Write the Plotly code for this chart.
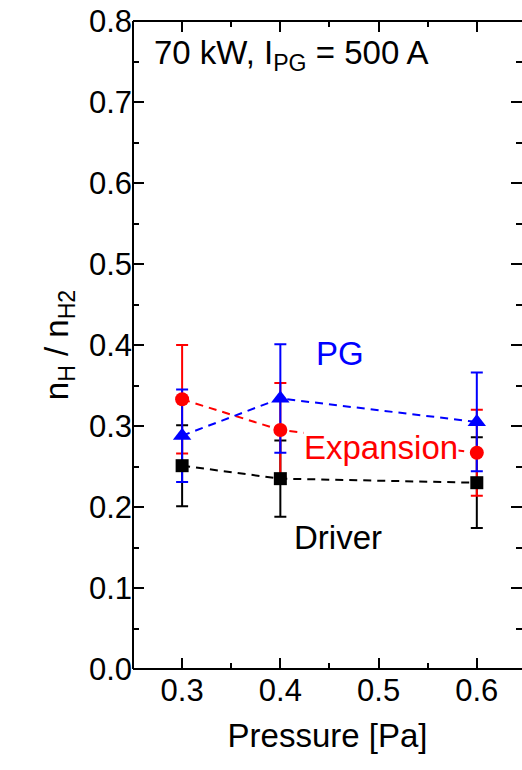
import plotly.graph_objects as go

pressure = [0.3, 0.4, 0.6]

driver = [0.251, 0.235, 0.230]
driver_err = [0.050, 0.047, 0.056]

expansion = [0.333, 0.295, 0.267]
expansion_err = [0.067, 0.058, 0.053]

pg = [0.288, 0.334, 0.305]
pg_err = [0.057, 0.067, 0.061]

x_ticks = [0.3, 0.4, 0.5, 0.6]
y_ticks = [0.0, 0.1, 0.2, 0.3, 0.4, 0.5, 0.6, 0.7, 0.8]

FONT = "Liberation Sans, Arial, sans-serif"

series = [
    ("Driver", driver, driver_err, "black", "square", 13),
    ("Expansion", expansion, expansion_err, "red", "circle", 14),
    ("PG", pg, pg_err, "blue", "triangle-up", 16),
]

fig = go.Figure()

# dashed lines and error bars first
for name, vals, errs, col, sym, sz in series:
    fig.add_trace(go.Scatter(
        x=pressure, y=vals, mode="lines+markers",
        line=dict(color=col, width=2, dash="8px,6px"),
        marker=dict(size=1, opacity=0, color=col),
        error_y=dict(type="data", array=errs, visible=True, color=col,
                     thickness=2, width=6),
        showlegend=False, hoverinfo="skip",
    ))

# markers on top
for name, vals, errs, col, sym, sz in series:
    fig.add_trace(go.Scatter(
        x=pressure, y=vals, mode="markers", name=name,
        marker=dict(symbol=sym, size=sz, color=col, line=dict(width=0)),
        showlegend=False,
    ))

annotations = [
    dict(x=0.461, y=0.389, text="PG", color="blue", xanchor="center", bg=None),
    dict(x=0.5025, y=0.273, text="Expansion", color="red", xanchor="center", bg="white"),
    dict(x=0.459, y=0.162, text="Driver", color="black", xanchor="center", bg=None),
    dict(x=0.2704, y=0.758, text="70 kW, I<sub>PG</sub> = 500 A", color="black", xanchor="left", bg=None),
]
for a in annotations:
    fig.add_annotation(x=a["x"], y=a["y"], xref="x", yref="y", text=a["text"],
                       showarrow=False, xanchor=a["xanchor"], yanchor="middle",
                       bgcolor=a["bg"] if a["bg"] else "rgba(0,0,0,0)", borderpad=0,
                       font=dict(family=FONT, size=33, color=a["color"]))

axis_common = dict(
    showline=False, mirror="ticks",
    ticks="inside", ticklen=11, tickwidth=2, tickcolor="black",
    showgrid=False, zeroline=False,
    tickfont=dict(family=FONT, size=31, color="black"),
)

fig.update_xaxes(
    range=[0.25, 0.646], tickvals=x_ticks, ticktext=[f"{v:.1f}" for v in x_ticks],
    minor=dict(ticks="inside", ticklen=6, tickwidth=2, dtick=0.05, tick0=0.25, tickcolor="black", showgrid=False),
    title=dict(text="Pressure [Pa]", font=dict(family=FONT, size=33, color="black"), standoff=16),
    **axis_common,
)
fig.update_yaxes(
    range=[0, 0.8], tickvals=y_ticks, ticktext=[f"{v:.1f}" for v in y_ticks],
    minor=dict(ticks="inside", ticklen=6, tickwidth=2, dtick=0.05, tick0=0, tickcolor="black", showgrid=False),
    title=dict(text="n<sub>H</sub> / n<sub>H2</sub>", font=dict(family=FONT, size=33, color="black"), standoff=10),
    **axis_common,
)

# frame: left, top, bottom (right edge lies outside the picture)
for x0, y0, x1, y1 in [(0, 0, 0, 1), (0, 1, 1, 1), (0, 0, 1, 0)]:
    fig.add_shape(type="line", xref="paper", yref="paper", x0=x0, y0=y0, x1=x1, y1=y1,
                  line=dict(color="black", width=2), layer="above")

fig.update_layout(
    width=522, height=770,
    margin=dict(l=133, r=0, t=21, b=101),
    paper_bgcolor="white", plot_bgcolor="white",
    font=dict(family=FONT, color="black"),
)

fig.write_html("out.html", config={"displayModeBar": False})
